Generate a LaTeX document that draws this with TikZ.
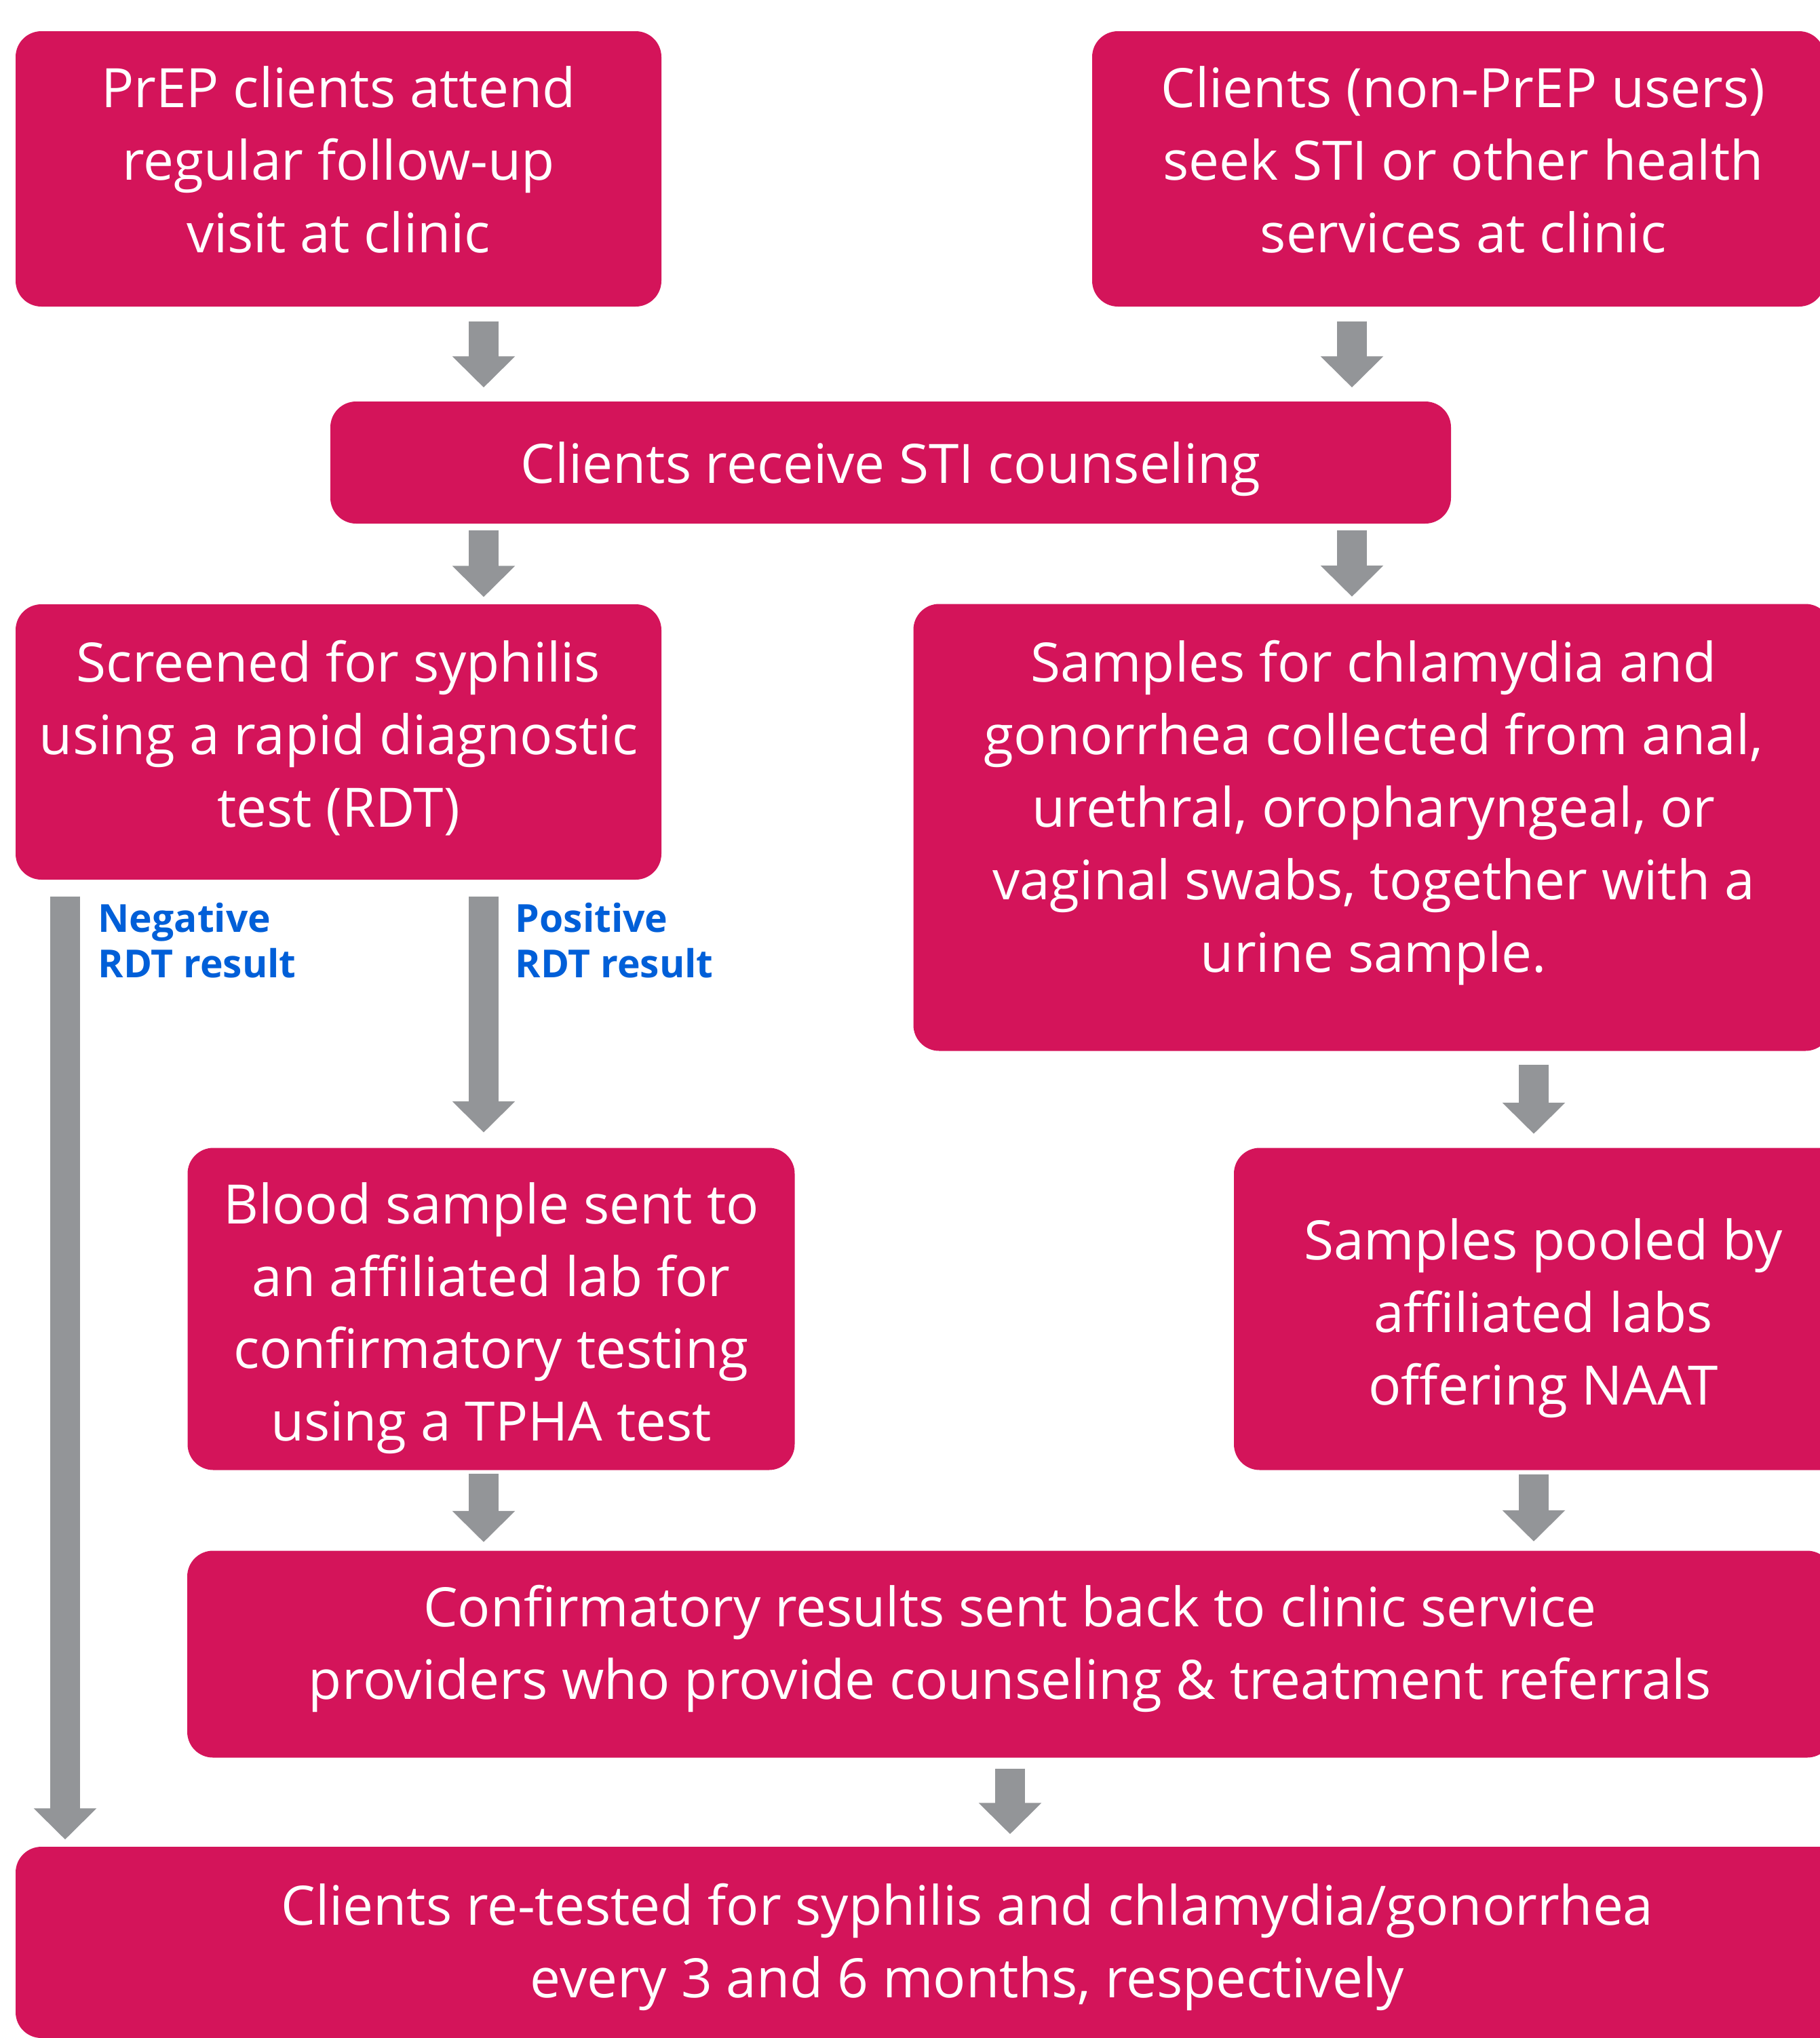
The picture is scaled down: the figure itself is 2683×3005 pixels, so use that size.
\documentclass[tikz,border=0pt]{standalone}
\usepackage{fontspec}
\setmainfont{Open Sans}
\usetikzlibrary{arrows.meta}
\definecolor{boxred}{HTML}{D4145A}
\definecolor{arrowgray}{HTML}{939598}
\definecolor{labelblue}{HTML}{005FD8}
\tikzset{stepbox/.style={fill=boxred, rounded corners=3.8mm, inner sep=0pt},
  steptext/.style={text=white, inner sep=0pt, align=center, font=\fontsize{22.8}{30.4}\selectfont, execute at begin node=\strut, execute at end node=\strut},
  flow/.style={draw=arrowgray, line width=4.4mm, -{Triangle[width=9mm,length=4.6mm]}},
  gaps/.style 2 args={shorten <=#1, shorten >=#2},
  result/.style={text=labelblue, inner sep=0pt, align=left, anchor=north west, font=\bfseries\fontsize{16.2}{19}\selectfont}}
\begin{document}
\begin{tikzpicture}[x=0.1mm, y=-0.1mm]
    \useasboundingbox (0,0) rectangle (2683,3005);
    \node[stepbox, minimum width=95.2mm, minimum height=40.6mm] (prep) at (499,249) {};
    \node[stepbox, minimum width=108mm, minimum height=40.6mm] (nonprep) at (2150,249) {};
    \node[stepbox, minimum width=165.2mm, minimum height=18mm] (sti) at (1313,682) {};
    \node[stepbox, minimum width=95.2mm, minimum height=40.6mm] (screen) at (499,1094) {};
    \node[stepbox, minimum width=135.3mm, minimum height=65.9mm] (swabs) at (2023,1220) {};
    \node[stepbox, minimum width=89.5mm, minimum height=47.5mm] (blood) at (724,1930) {};
    \node[stepbox, minimum width=91.2mm, minimum height=47.5mm] (pooled) at (2275,1930) {};
    \node[stepbox, minimum width=242.6mm, minimum height=30.5mm] (confirm) at (1489,2439) {};
    \node[stepbox, minimum width=280.6mm, minimum height=28.2mm] (retest) at (1426,2864) {};
    \node[steptext] (prep-text) at (499,251) {PrEP clients attend\\regular follow-up\\visit at clinic};
    \node[steptext] (nonprep-text) at (2157,251) {Clients (non-PrEP users)\\seek STI or other health\\services at clinic};
    \node[steptext] (sti-text) at (1313,691) {Clients receive STI counseling};
    \node[steptext] (screen-text) at (499,1098) {Screened for syphilis\\using a rapid diagnostic\\test (RDT)};
    \node[steptext] (swabs-text) at (2025,1205) {Samples for chlamydia and\\gonorrhea collected from anal,\\urethral, oropharyngeal, or\\vaginal swabs, together with a\\urine sample.};
    \node[steptext] (blood-text) at (724,1950) {Blood sample sent to\\an affiliated lab for\\confirmatory testing\\using a TPHA test};
    \node[steptext] (pooled-text) at (2275,1950) {Samples pooled by\\affiliated labs\\offering NAAT};
    \node[steptext] (confirm-text) at (1489,2437) {Confirmatory results sent back to clinic service\\providers who provide counseling \& treatment referrals};
    \node[steptext] (retest-text) at (1426,2877) {Clients re-tested for syphilis and chlamydia/gonorrhea\\every 3 and 6 months, respectively};
    \coordinate (neg) at (96,0);
    \coordinate (left) at (713,0);
    \coordinate (mid) at (1489,0);
    \coordinate (right) at (1993,0);
    \coordinate (far) at (2261,0);
    \draw[flow, gaps={2.1mm}{2mm}] (prep.south -| left) -- (sti.north -| left);
    \draw[flow, gaps={2.1mm}{2mm}] (nonprep.south -| right) -- (sti.north -| right);
    \draw[flow, gaps={0.9mm}{1mm}] (sti.south -| left) -- (screen.north -| left);
    \draw[flow, gaps={0.9mm}{1mm}] (sti.south -| right) -- (swabs.north -| right);
    \draw[flow, gaps={2.4mm}{2.2mm}] (screen.south -| left) -- (blood.north -| left);
    \draw[flow, gaps={2.4mm}{1mm}] (screen.south -| neg) -- (retest.north -| neg);
    \draw[flow, gaps={2mm}{2mm}] (swabs.south -| far) -- (pooled.north -| far);
    \draw[flow, gaps={0.5mm}{1.2mm}] (blood.south -| left) -- (confirm.north -| left);
    \draw[flow, gaps={0.6mm}{1.3mm}] (pooled.south -| far) -- (confirm.north -| far);
    \draw[flow, gaps={1.6mm}{1.8mm}] (confirm.south -| mid) -- (retest.north -| mid);
    \node[result] (neglabel) at (144,1331) {Negative\\RDT result};
    \node[result] (poslabel) at (759,1331) {Positive\\RDT result};
\end{tikzpicture}
\end{document}
